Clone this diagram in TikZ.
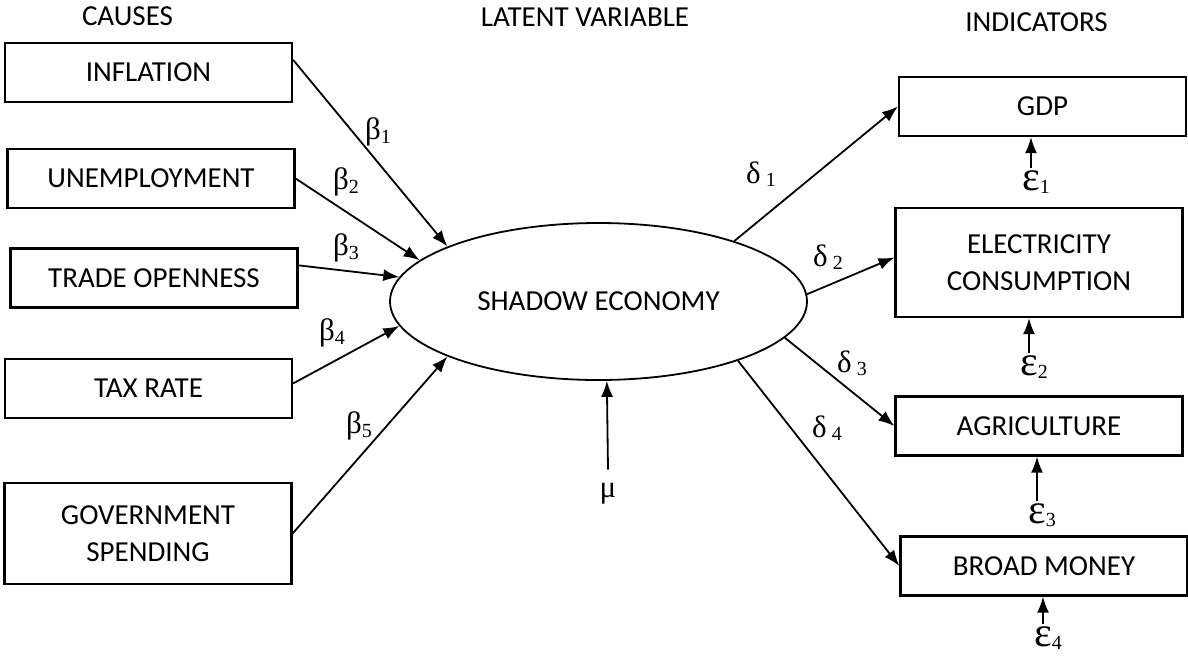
\documentclass[tikz,border=0pt]{standalone}
\usepackage{fontspec}
\setmainfont{Carlito}
\newfontfamily\greekfont{Liberation Serif}
\usetikzlibrary{arrows.meta}
\usetikzlibrary{positioning}
\usetikzlibrary{shapes}

\begin{document}
\begin{tikzpicture}
        [x=0.5pt,y=-0.5pt,
        manifest/.style={rectangle,draw=black,line width=1.1pt,minimum width=143.5pt,minimum height=29.5pt,inner sep=2pt,align=center,font=\fontsize{14.5}{18.5}\selectfont},
        latent/.style={ellipse,draw=black,line width=0.9pt,minimum width=208.5pt,minimum height=78.5pt,inner sep=0pt,font=\fontsize{14.5}{18.5}\selectfont},
        heading/.style={font=\fontsize{14.5}{18.5}\selectfont},
        coef/.style={font=\greekfont\fontsize{15.5}{17}\selectfont,inner sep=0pt},
        error/.style={font=\greekfont,inner sep=0pt,outer sep=1.5pt},
        on/.style={->,>={Latex[length=8pt,width=6pt]},line width=0.9pt}]

\useasboundingbox (0,0) rectangle (1188,655);

% Headings %
\node[heading] (hc) at (127.5,16) {CAUSES};
\node[heading] (hl) at (585,17) {LATENT VARIABLE};
\node[heading] (hi) at (1036.5,22) {INDICATORS};

% Causes %
\node[manifest] (c1) at (148.5,72.5) {INFLATION};
\node[manifest] (c2) at (151,178.5) {UNEMPLOYMENT};
\node[manifest] (c3) at (154,278) {TRADE OPENNESS};
\node[manifest] (c4) at (148.5,388.5) {TAX RATE};
\node[manifest,minimum height=50.5pt] (c5) at (148,533.5) {GOVERNMENT\\SPENDING};

% Latent Variable %
\node[latent] (se) at (598.5,301.5) {SHADOW ECONOMY};

% Indicators %
\node[manifest] (y1) at (1042.5,106.5) {GDP};
\node[manifest,minimum height=54.5pt] (y2) at (1039,262.5) {ELECTRICITY\\CONSUMPTION};
\node[manifest] (y3) at (1039,426) {AGRICULTURE};
\node[manifest] (y4) at (1044,566) {BROAD MONEY};

% Pfeile %
\foreach \c/\s/\e in {1/5.8/160.1, 2/0/167.7, 3/5.9/173.2, 4/2.6/187.3, 5/0/200.6}
        \path (c\c.\s) edge [on] (se.\e);
\foreach \c/\px/\py in {1/378/132, 2/346/182, 3/346/248, 4/332/333, 5/359/426}
        \node[coef] (b\c) at (\px,\py) {β\raisebox{-2pt}{\fontsize{10}{10}\selectfont\c}};

\foreach \y/\s/\e in {1/24.3/west, 2/2.6/178.2, 3/349.1/west, 4/337.9/west}
        \path (se.\s) edge [on] (y\y.\e);
\foreach \y/\px/\py in {1/761/174, 2/828/257, 3/852/363, 4/827/428}
        \node[coef] (d\y) at (\px,\py) {δ\hspace{2.5pt}\raisebox{-1.5pt}{\fontsize{10}{10}\selectfont\y}};

% Fehler %
\node[coef,outer sep=7pt] (mu) at (608,494) {μ};
\path (mu.north) edge [on] (se.276.9);

\foreach \y/\px/\py in {1/1036/182, 2/1034/367, 3/1042/515, 4/1048/638}
        \node[error] (e\y) at (\px,\py) {{\fontsize{21}{21}\selectfont ε}\raisebox{-1.5pt}{\fontsize{10}{10}\selectfont\y}};
\foreach \y in {1,...,4}
        \path ([xshift=-2.5pt]e\y.north) edge [on] ([xshift=-2.5pt]e\y.north |- y\y.south);
\end{tikzpicture}
\end{document}
